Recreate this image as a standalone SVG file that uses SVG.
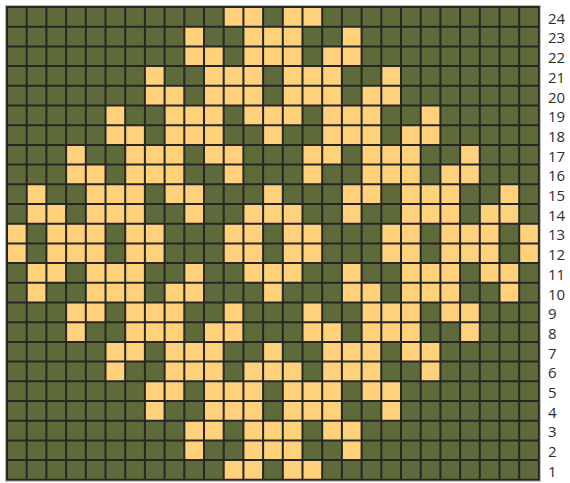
<svg xmlns="http://www.w3.org/2000/svg" xmlns:xlink="http://www.w3.org/1999/xlink" width="570" height="483" viewBox="0 0 570 483">
<style>
.l{fill:#fed17a}
.grid{fill:none;stroke:#262626;stroke-width:2}
.lab{font-family:"Open Sans","Liberation Sans",sans-serif;font-size:15px;fill:#2e2e2e}
</style>
<defs>
<g id="r0" class="l"><rect x="11" width="2" height="1"/><rect x="14" width="2" height="1"/></g>
<g id="r1" class="l"><rect x="9" width="1" height="1"/><rect x="12" width="3" height="1"/><rect x="17" width="1" height="1"/></g>
<g id="r2" class="l"><rect x="9" width="2" height="1"/><rect x="12" width="3" height="1"/><rect x="16" width="2" height="1"/></g>
<g id="r3" class="l"><rect x="7" width="1" height="1"/><rect x="10" width="3" height="1"/><rect x="14" width="3" height="1"/><rect x="19" width="1" height="1"/></g>
<g id="r4" class="l"><rect x="7" width="2" height="1"/><rect x="10" width="3" height="1"/><rect x="14" width="3" height="1"/><rect x="18" width="2" height="1"/></g>
<g id="r5" class="l"><rect x="5" width="1" height="1"/><rect x="8" width="3" height="1"/><rect x="12" width="3" height="1"/><rect x="16" width="3" height="1"/><rect x="21" width="1" height="1"/></g>
<g id="r6" class="l"><rect x="5" width="2" height="1"/><rect x="8" width="3" height="1"/><rect x="13" width="1" height="1"/><rect x="16" width="3" height="1"/><rect x="20" width="2" height="1"/></g>
<g id="r7" class="l"><rect x="3" width="1" height="1"/><rect x="6" width="3" height="1"/><rect x="10" width="2" height="1"/><rect x="15" width="2" height="1"/><rect x="18" width="3" height="1"/><rect x="23" width="1" height="1"/></g>
<g id="r8" class="l"><rect x="3" width="2" height="1"/><rect x="6" width="3" height="1"/><rect x="11" width="1" height="1"/><rect x="15" width="1" height="1"/><rect x="18" width="3" height="1"/><rect x="22" width="2" height="1"/></g>
<g id="r9" class="l"><rect x="1" width="1" height="1"/><rect x="4" width="3" height="1"/><rect x="8" width="2" height="1"/><rect x="13" width="1" height="1"/><rect x="17" width="2" height="1"/><rect x="20" width="3" height="1"/><rect x="25" width="1" height="1"/></g>
<g id="r10" class="l"><rect x="1" width="2" height="1"/><rect x="4" width="3" height="1"/><rect x="9" width="1" height="1"/><rect x="12" width="3" height="1"/><rect x="17" width="1" height="1"/><rect x="20" width="3" height="1"/><rect x="24" width="2" height="1"/></g>
<g id="r11" class="l"><rect x="0" width="1" height="1"/><rect x="2" width="3" height="1"/><rect x="6" width="2" height="1"/><rect x="11" width="2" height="1"/><rect x="14" width="2" height="1"/><rect x="19" width="2" height="1"/><rect x="22" width="3" height="1"/><rect x="26" width="1" height="1"/></g>
</defs>
<rect x="5.5" y="5.5" width="534.9" height="475.8" fill="none" stroke="#bdbdbd" stroke-width="1"/>
<rect x="7" y="7" width="531.9" height="472.8" fill="#5f6a3a"/>
<g id="cells" transform="translate(7,7) scale(19.7)">
<use xlink:href="#r0" y="0"/><use xlink:href="#r0" y="23"/>
<use xlink:href="#r1" y="1"/><use xlink:href="#r1" y="22"/>
<use xlink:href="#r2" y="2"/><use xlink:href="#r2" y="21"/>
<use xlink:href="#r3" y="3"/><use xlink:href="#r3" y="20"/>
<use xlink:href="#r4" y="4"/><use xlink:href="#r4" y="19"/>
<use xlink:href="#r5" y="5"/><use xlink:href="#r5" y="18"/>
<use xlink:href="#r6" y="6"/><use xlink:href="#r6" y="17"/>
<use xlink:href="#r7" y="7"/><use xlink:href="#r7" y="16"/>
<use xlink:href="#r8" y="8"/><use xlink:href="#r8" y="15"/>
<use xlink:href="#r9" y="9"/><use xlink:href="#r9" y="14"/>
<use xlink:href="#r10" y="10"/><use xlink:href="#r10" y="13"/>
<use xlink:href="#r11" y="11"/><use xlink:href="#r11" y="12"/>
</g>
<path class="grid" d="M7 6V480.8M26.7 6V480.8M46.4 6V480.8M66.1 6V480.8M85.8 6V480.8M105.5 6V480.8M125.2 6V480.8M144.9 6V480.8M164.6 6V480.8M184.3 6V480.8M204 6V480.8M223.7 6V480.8M243.4 6V480.8M263.1 6V480.8M282.8 6V480.8M302.5 6V480.8M322.2 6V480.8M341.9 6V480.8M361.6 6V480.8M381.3 6V480.8M401 6V480.8M420.7 6V480.8M440.4 6V480.8M460.1 6V480.8M479.8 6V480.8M499.5 6V480.8M519.2 6V480.8M538.9 6V480.8M6 7H539.9M6 26.7H539.9M6 46.4H539.9M6 66.1H539.9M6 85.8H539.9M6 105.5H539.9M6 125.2H539.9M6 144.9H539.9M6 164.6H539.9M6 184.3H539.9M6 204H539.9M6 223.7H539.9M6 243.4H539.9M6 263.1H539.9M6 282.8H539.9M6 302.5H539.9M6 322.2H539.9M6 341.9H539.9M6 361.6H539.9M6 381.3H539.9M6 401H539.9M6 420.7H539.9M6 440.4H539.9M6 460.1H539.9M6 479.8H539.9"/>
<g id="labels" class="lab">
<text x="548" y="23.7">24</text>
<text x="548" y="43.4">23</text>
<text x="548" y="63.1">22</text>
<text x="548" y="82.8">21</text>
<text x="548" y="102.5">20</text>
<text x="548" y="122.2">19</text>
<text x="548" y="141.9">18</text>
<text x="548" y="161.6">17</text>
<text x="548" y="181.3">16</text>
<text x="548" y="201">15</text>
<text x="548" y="220.7">14</text>
<text x="548" y="240.4">13</text>
<text x="548" y="260.1">12</text>
<text x="548" y="279.8">11</text>
<text x="548" y="299.5">10</text>
<text x="548" y="319.2">9</text>
<text x="548" y="338.9">8</text>
<text x="548" y="358.6">7</text>
<text x="548" y="378.3">6</text>
<text x="548" y="398">5</text>
<text x="548" y="417.7">4</text>
<text x="548" y="437.4">3</text>
<text x="548" y="457.1">2</text>
<text x="548" y="476.8">1</text>
</g>
</svg>
